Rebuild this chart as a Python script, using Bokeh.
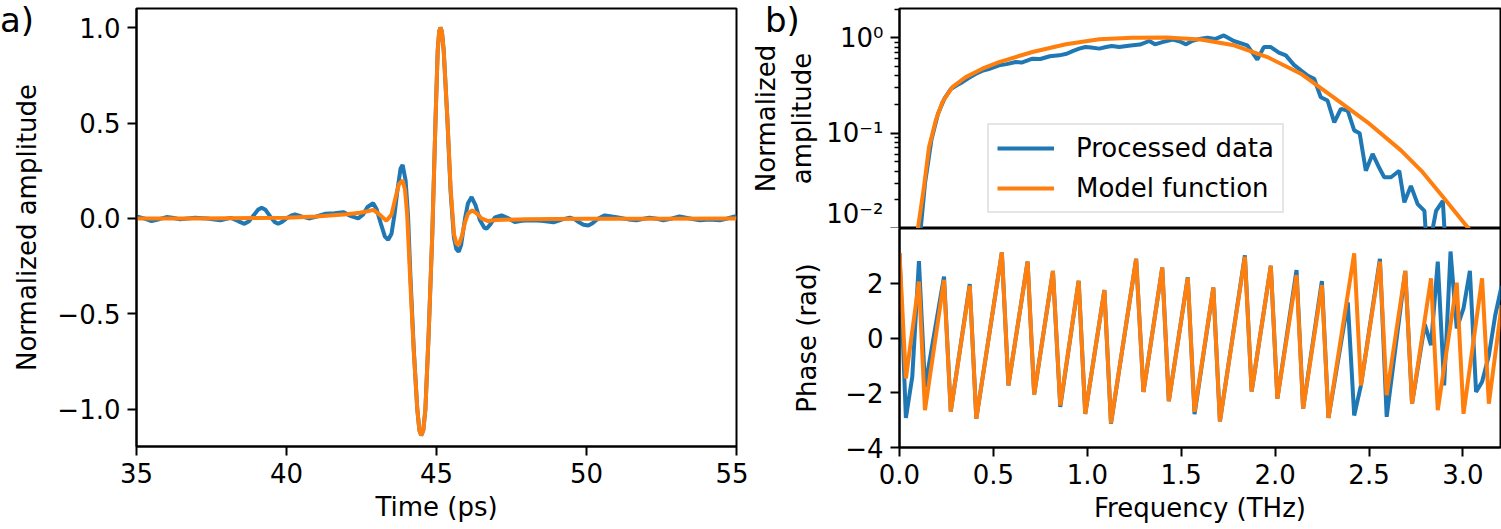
from bokeh.plotting import figure
from bokeh.layouts import row, column
from bokeh.models import (FixedTicker, CustomJSTickFormatter, Range1d, Div,
                          Legend, LegendItem)
from bokeh.embed import file_html
from bokeh.resources import INLINE

# ---------------- data ----------------
# a) time domain (ps, normalized amplitude)
t_data = [35.0, 35.25, 35.5, 35.75, 36.0, 36.25, 36.45, 36.7, 36.95, 37.35, 37.6, 37.8,
          38.0, 38.15, 38.4, 38.6, 38.75, 38.9, 39.05, 39.17, 39.3, 39.45, 39.6, 39.72,
          39.85, 40.0, 40.15, 40.28, 40.55, 40.78, 41.0, 41.28, 41.6, 41.89, 42.15, 42.39,
          42.55, 42.7, 42.89, 43.0, 43.15, 43.28, 43.39, 43.5, 43.6, 43.7, 43.8,
          43.87, 43.97, 44.05, 44.13, 44.24, 44.36, 44.43, 44.49, 44.56, 44.63, 44.74, 44.86,
          44.97, 45.04, 45.09, 45.13, 45.18, 45.24, 45.36, 45.47, 45.58, 45.66, 45.74, 45.82,
          45.95, 46.05, 46.17, 46.3, 46.45, 46.6, 46.67, 46.8, 46.95, 47.17, 47.4, 47.61,
          47.85, 48.1, 48.5, 48.9, 49.2, 49.44, 49.6, 49.75, 49.9, 50.06, 50.2, 50.35, 50.61,
          50.85, 51.1, 51.4, 51.67, 51.9, 52.1, 52.35, 52.56, 52.85, 53.1, 53.45, 53.78, 54.1,
          54.44, 54.7, 54.94, 55.0]
amp_data = [0.010, 0.0, -0.014, -0.004, 0.007, 0.002, -0.005, 0.0, 0.003, 0.0, -0.006, -0.010,
            -0.002, 0.003, -0.015, -0.028, -0.015, 0.015, 0.045, 0.056, 0.045, 0.012, -0.018, -0.028,
            -0.018, 0.0, 0.015, 0.021, 0.008, 0.0, 0.010, 0.024, 0.027, 0.033, 0.012, 0.0,
            0.02, 0.06, 0.08, 0.05, -0.03, -0.095, -0.112, -0.08, 0.02, 0.15, 0.26,
            0.28, 0.2, 0.02, -0.3, -0.68, -1.00, -1.11, -1.137, -1.11, -1.00, -0.60, -0.08,
            0.53, 0.88, 0.98, 1.0, 0.98, 0.88, 0.53, 0.14, -0.10, -0.16, -0.175, -0.14,
            0.0, 0.08, 0.112, 0.07, -0.01, -0.05, -0.054, -0.03, 0.005, 0.016, 0.0, -0.019,
            -0.012, -0.01, -0.012, -0.02, -0.005, 0.004, -0.004, -0.02, -0.033, -0.037, -0.025, -0.005, 0.016,
            0.01, 0.004, -0.005, -0.01, -0.002, 0.004, -0.002, -0.01, 0.0, 0.01, 0.0, -0.01, -0.005,
            -0.01, 0.0, 0.01, 0.01]

t_model = [35.0, 36.0, 37.0, 38.0, 39.0, 40.0, 41.0, 42.0, 42.45, 42.7, 42.9, 43.1, 43.33,
           43.5, 43.62, 43.75, 43.87, 43.95, 44.02, 44.13, 44.24, 44.36, 44.43, 44.49, 44.56,
           44.63, 44.74, 44.86, 44.97, 45.04, 45.09, 45.13, 45.18, 45.24, 45.36, 45.47, 45.58,
           45.66, 45.74, 45.85, 45.95, 46.05, 46.19, 46.35, 46.5, 46.72, 47.0, 48.0, 50.0,
           52.0, 55.0]
amp_model = [0.0, 0.0, 0.0, 0.001, 0.002, 0.003, 0.010, 0.022, 0.030, 0.038, 0.045, 0.02, -0.012,
             0.02, 0.1, 0.18, 0.20, 0.15, 0.025, -0.34, -0.69, -1.00, -1.11, -1.137, -1.11,
             -1.00, -0.60, -0.08, 0.53, 0.88, 0.98, 1.0, 0.98, 0.88, 0.53, 0.16, -0.08,
             -0.13, -0.14, -0.09, -0.02, 0.025, 0.042, 0.025, 0.0, -0.014, -0.008, -0.004, -0.002,
             -0.001, 0.0]

# b) spectrum amplitude (THz, normalized)
f_spec_data = [0.08, 0.113, 0.136, 0.170, 0.205, 0.239, 0.273, 0.307, 0.335, 0.370, 0.407, 0.44,
               0.475, 0.53, 0.57, 0.619, 0.65, 0.708, 0.75, 0.80, 0.851, 0.89, 0.925, 0.957,
               0.99, 1.02, 1.064, 1.10, 1.13, 1.17, 1.21, 1.242, 1.28, 1.33, 1.36, 1.40,
               1.455, 1.49, 1.526, 1.56, 1.603, 1.64, 1.68, 1.727, 1.78, 1.852, 1.905, 1.94,
               1.977, 2.02, 2.057, 2.10, 2.137, 2.175, 2.208, 2.243, 2.279, 2.315, 2.35, 2.386,
               2.421, 2.45, 2.483, 2.519, 2.55, 2.581, 2.617, 2.661, 2.688, 2.723, 2.759, 2.795,
               2.81, 2.857, 2.893, 2.91]
spec_data = [0.001, 0.01, 0.03, 0.085, 0.16, 0.23, 0.29, 0.32, 0.343, 0.38, 0.42, 0.45,
             0.47, 0.514, 0.53, 0.557, 0.55, 0.604, 0.60, 0.64, 0.655, 0.68, 0.73, 0.77,
             0.80, 0.79, 0.77, 0.80, 0.82, 0.80, 0.82, 0.834, 0.85, 0.926, 0.855, 0.90,
             0.957, 0.92, 0.855, 0.93, 0.98, 1.0, 0.97, 1.06, 0.926, 0.834, 0.59, 0.8,
             0.8, 0.70, 0.655, 0.52, 0.455, 0.40, 0.372, 0.238, 0.22, 0.13, 0.18, 0.173,
             0.107, 0.10, 0.0403, 0.0606, 0.045, 0.0345, 0.0345, 0.0403, 0.0188, 0.028, 0.018, 0.0153,
             0.005, 0.0153, 0.0195, 0.005]

f_spec_model = [0.06, 0.098, 0.130, 0.157, 0.193, 0.228, 0.281, 0.353, 0.441, 0.53, 0.708, 0.886,
                1.064, 1.24, 1.42, 1.603, 1.781, 1.959, 2.137, 2.315, 2.492, 2.67, 2.78, 2.893,
                3.03, 3.1]
spec_model = [0.001, 0.01, 0.027, 0.071, 0.136, 0.211, 0.304, 0.387, 0.474, 0.557, 0.71, 0.855,
              0.964, 1.0, 1.01, 0.96, 0.834, 0.628, 0.42, 0.235, 0.13, 0.066, 0.04, 0.0215,
              0.01, 0.0065]

# b) phase (THz, rad)
f_phase_data = [0.000, 0.034, 0.068, 0.1035, 0.136, 0.237, 0.273, 0.374, 0.409, 0.545, 0.580,
                0.682, 0.717, 0.817, 0.856, 0.954, 0.989, 1.091, 1.126, 1.260, 1.299, 1.399,
                1.434, 1.535, 1.571, 1.671, 1.706, 1.839, 1.875, 1.977, 2.012, 2.114, 2.149,
                2.249, 2.284, 2.387, 2.421, 2.457, 2.558, 2.594, 2.693, 2.729, 2.797, 2.830,
                2.866, 2.900, 2.934, 2.967, 3.003, 3.037, 3.070, 3.102, 3.138, 3.172, 3.206]
phase_data = [3.1, -2.92, -1.42, 2.81, -1.8, 2.24, -2.68, 1.97, -2.95, 3.13, -1.73,
              2.79, -2.06, 2.45, -2.52, 2.09, -2.77, 1.75, -3.13, 2.89, -1.97, 2.57,
              -2.31, 2.22, -2.78, 1.84, -3.05, 3.02, -1.95, 2.64, -2.22, 2.48, -2.58,
              2.08, -2.92, 1.3, -2.83, -1.73, 2.89, -2.88, 2.45, -2.40, 0.5, -0.26,
              2.79, -1.73, 3.16, 0.35, 1.08, 2.45, -1.97, -1.6, -0.64, 0.83, 1.9]

f_phase_model = [0.000, 0.034, 0.1035, 0.1355, 0.237, 0.2727, 0.374, 0.409, 0.545, 0.580,
                 0.682, 0.717, 0.817, 0.856, 0.954, 0.989, 1.091, 1.126, 1.260, 1.299, 1.399,
                 1.434, 1.535, 1.571, 1.671, 1.706, 1.839, 1.875, 1.977, 2.012, 2.114, 2.149,
                 2.249, 2.284, 2.421, 2.457, 2.558, 2.594, 2.693, 2.729, 2.830, 2.866, 2.967,
                 3.003, 3.102, 3.138, 3.206]
phase_model = [3.1, -1.48, 2.06, -2.64, 2.12, -2.68, 1.91, -2.95, 3.13, -1.73,
               2.79, -2.06, 2.45, -2.46, 2.09, -2.77, 1.75, -3.11, 2.89, -1.97, 2.57,
               -2.31, 2.20, -2.70, 1.84, -3.05, 2.97, -1.95, 2.64, -2.22, 2.30, -2.58,
               1.93, -2.92, 3.09, -1.73, 2.79, -2.09, 2.45, -2.40, 2.18, -2.64, 2.02,
               -2.77, 2.18, -2.40, 1.2]

time_ticks = [35, 40, 45, 50, 55]
amp_ticks = [-1.0, -0.5, 0.0, 0.5, 1.0]
freq_ticks = [0.0, 0.5, 1.0, 1.5, 2.0, 2.5, 3.0]
log_ticks = [0.01, 0.1, 1.0]
log_minor = [0.02, 0.03, 0.04, 0.05, 0.06, 0.07, 0.08, 0.09,
             0.2, 0.3, 0.4, 0.5, 0.6, 0.7, 0.8, 0.9, 2.0]
phase_ticks = [-4, -2, 0, 2]

# ---------------- style ----------------
BLUE = "#1f77b4"
ORANGE = "#ff7f0e"
FONT = "DejaVu Sans"
FS = "26px"
LW = 4

fmt1 = CustomJSTickFormatter(code="return (tick < 0 ? '\\u2212' : '') + Math.abs(tick).toFixed(1);")
fmt0 = CustomJSTickFormatter(code="return (tick < 0 ? '\\u2212' : '') + Math.abs(tick).toFixed(0);")
fmtlog = CustomJSTickFormatter(code="""
const e = Math.round(Math.log10(tick));
const m = {'0': '10\\u2070', '-1': '10\\u207b\\u00b9', '-2': '10\\u207b\\u00b2'};
return m[String(e)] || '';
""")


def style_axis(ax, minor=False):
    ax.major_label_text_font = FONT
    ax.major_label_text_font_size = FS
    ax.major_label_text_color = "black"
    ax.axis_label_text_font = FONT
    ax.axis_label_text_font_size = FS
    ax.axis_label_text_font_style = "normal"
    ax.axis_label_text_color = "black"
    ax.axis_line_color = "black"
    ax.axis_line_width = 2
    ax.major_tick_line_color = "black"
    ax.major_tick_line_width = 2
    ax.major_tick_out = 9
    ax.major_tick_in = 0
    ax.major_label_standoff = 7
    if minor:
        ax.minor_tick_line_color = "black"
        ax.minor_tick_line_width = 1.6
        ax.minor_tick_out = 5
        ax.minor_tick_in = 0
    else:
        ax.minor_tick_line_color = None


def base(p):
    p.outline_line_color = "black"
    p.outline_line_width = 2
    p.xgrid.visible = False
    p.ygrid.visible = False
    p.background_fill_color = "white"
    p.border_fill_color = "white"


def panel_letter(txt, left, top):
    return Div(text=txt, width=40, height=40,
               styles={"position": "absolute", "left": f"{left}px", "top": f"{top}px",
                       "font-family": FONT, "font-size": "34px", "line-height": "34px",
                       "color": "black", "z-index": "10", "margin": "0px"})


# ---------------- panel a ----------------
pa = figure(width=748, height=529, output_backend="svg", toolbar_location=None,
            x_range=Range1d(35, 55), y_range=Range1d(-1.195, 1.10),
            min_border_left=136, min_border_right=12, min_border_top=8, min_border_bottom=83)
base(pa)
pa.line(t_data, amp_data, line_color=BLUE, line_width=LW)
pa.line(t_model, amp_model, line_color=ORANGE, line_width=LW)
pa.xaxis.ticker = FixedTicker(ticks=time_ticks)
pa.yaxis.ticker = FixedTicker(ticks=amp_ticks)
pa.xaxis.formatter = fmt0
pa.yaxis.formatter = fmt1
pa.xaxis.axis_label = "Time (ps)"
pa.yaxis.axis_label = "Normalized amplitude"
style_axis(pa.xaxis[0])
style_axis(pa.yaxis[0])
pa.yaxis.axis_label_standoff = 12
pa.xaxis.axis_label_standoff = 6

# ---------------- panel b top ----------------
pt = figure(width=753, height=228, output_backend="svg", toolbar_location=None,
            x_range=Range1d(0, 3.2), y_range=Range1d(0.01, 2.03), y_axis_type="log",
            x_axis_location=None,
            min_border_left=151, min_border_right=1, min_border_top=8, min_border_bottom=0)
base(pt)
r1 = pt.line(f_spec_data, spec_data, line_color=BLUE, line_width=LW)
r2 = pt.line(f_spec_model, spec_model, line_color=ORANGE, line_width=LW)
pt.yaxis.ticker = FixedTicker(ticks=log_ticks, minor_ticks=log_minor)
pt.yaxis.formatter = fmtlog
pt.yaxis.axis_label = "Normalized\namplitude"
style_axis(pt.yaxis[0], minor=True)
pt.yaxis.axis_label_standoff = 6
legend = Legend(items=[LegendItem(label="Processed data", renderers=[r1]),
                       LegendItem(label="Model function", renderers=[r2])],
                location=(88, 15), margin=0, padding=8, spacing=10,
                glyph_width=57, glyph_height=30, label_height=30, label_standoff=22,
                label_text_font=FONT, label_text_font_size=FS, label_text_color="black",
                border_line_color="#cccccc", border_line_width=2,
                background_fill_color="white", background_fill_alpha=0.8)
pt.add_layout(legend)

# ---------------- panel b bottom ----------------
pb = figure(width=753, height=301, output_backend="svg", toolbar_location=None,
            x_range=pt.x_range, y_range=Range1d(-4, 4.0),
            min_border_left=151, min_border_right=1, min_border_top=0, min_border_bottom=82)
base(pb)
pb.line(f_phase_data, phase_data, line_color=BLUE, line_width=LW)
pb.line(f_phase_model, phase_model, line_color=ORANGE, line_width=LW)
pb.xaxis.ticker = FixedTicker(ticks=freq_ticks)
pb.yaxis.ticker = FixedTicker(ticks=phase_ticks)
pb.xaxis.formatter = fmt1
pb.yaxis.formatter = fmt0
pb.xaxis.axis_label = "Frequency (THz)"
pb.yaxis.axis_label = "Phase (rad)"
style_axis(pb.xaxis[0])
style_axis(pb.yaxis[0])
pb.yaxis.axis_label_standoff = 20
pb.xaxis.axis_label_standoff = 6

layout = row(panel_letter("a)", 0, 3), panel_letter("b)", 765, 3),
             pa, column(pt, pb, spacing=0), spacing=0)
open("out.html", "w").write(file_html(layout, INLINE))
